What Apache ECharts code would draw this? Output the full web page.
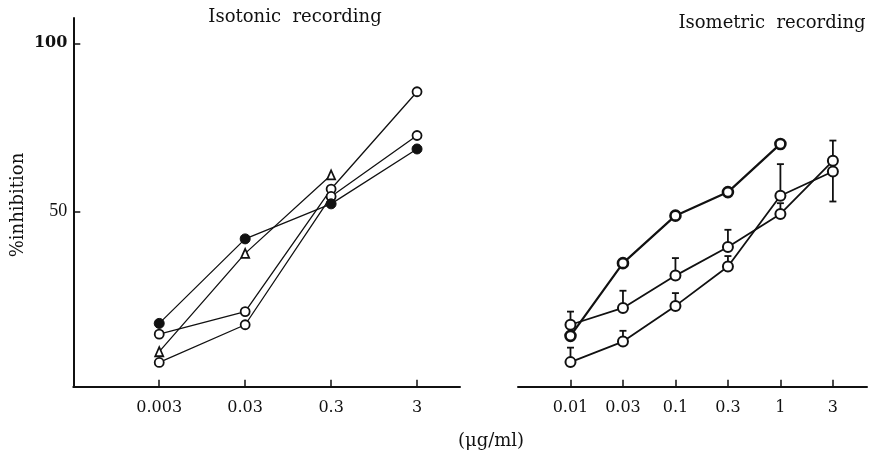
<!DOCTYPE html>
<html>
<head>
<meta charset="utf-8">
<script src="https://cdn.jsdelivr.net/npm/echarts@6/dist/echarts.min.js"></script>
<style>
  html, body { margin: 0; padding: 0; background: #fff; }
  #chart { width: 878px; height: 458px; }
</style>
</head>
<body>
<div id="chart"></div>
<script>
// Concentrations (µg/ml) on each panel, equally spaced
const isotonicDoses = ['0.003', '0.03', '0.3', '3'];
const isometricDoses = ['0.01', '0.03', '0.1', '0.3', '1', '3'];
const yTicks = [50, 100];

// Isotonic recording: % inhibition
const isoFilled   = [16.8, 41.9, 52.3, 68.6];
const isoOpenA    = [13.6, 20.3, 56.7, 85.6];
const isoOpenB    = [5.2, 16.4, 54.5, 72.6];
const isoTriangle = [8.4, 37.6, 60.9];

// Isometric recording: % inhibition
const ismTop = [13.1, 34.7, 48.8, 55.8, 70.1];
const ismMid = [16.4, 21.4, 31.0, 39.5, 49.3, 65.1];
const ismLow = [5.3, 11.4, 22.0, 33.7, 54.7, 61.9];
// far end of each error bar (mean ± s.e.)
const ismMidErr = [20.3, 26.5, 36.2, 44.6, 52.5, 71.1];
const ismLowErr = [9.6, 14.6, 25.8, 36.8, 64.1, 53.0];

const SERIF = '"Liberation Serif", serif';
const WIDE = '"DejaVu Serif", "Liberation Serif", serif';
const INK = '#111';

const pts = arr => arr.map((v, i) => [i, v]);
const errs = (vals, ends) => vals.map((v, i) => [i, v, ends[i]]);

function xAxisFor(gridIndex, cats, max) {
  const idx = cats.map((_, i) => i);
  return {
    type: 'value', gridIndex: gridIndex, min: -1, max: max,
    splitLine: { show: false },
    axisLine: { show: true, onZero: false, lineStyle: { color: INK, width: 2 } },
    axisTick: { show: true, inside: true, length: 7, customValues: idx, lineStyle: { color: INK, width: 1.5 } },
    axisLabel: {
      customValues: idx, margin: 13,
      formatter: v => cats[Math.round(v)],
      fontFamily: WIDE, fontSize: 16, color: INK
    }
  };
}

function yAxisFor(gridIndex, visible) {
  return {
    type: 'value', gridIndex: gridIndex, min: -2, max: 107.5,
    splitLine: { show: false },
    axisLine: { show: visible, onZero: false, lineStyle: { color: INK, width: 2 } },
    axisTick: { show: visible, inside: true, length: 7, customValues: yTicks, lineStyle: { color: INK, width: 1.5 } },
    axisLabel: {
      show: visible, customValues: yTicks, margin: 6,
      formatter: v => v === 100 ? '{b|100}' : String(v),
      fontFamily: SERIF, fontSize: 18, color: INK,
      rich: { b: { fontFamily: WIDE, fontSize: 16, fontWeight: 'bold', color: INK } }
    }
  };
}

function lineSeries(data, xi, opts) {
  return Object.assign({
    type: 'line', xAxisIndex: xi, yAxisIndex: xi, data: data,
    symbol: 'circle', symbolSize: 9,
    lineStyle: { color: INK, width: 1.3 },
    itemStyle: { color: '#fff', borderColor: INK, borderWidth: 1.8 },
    animation: false, z: 3
  }, opts || {});
}

function errorSeries(data) {
  return {
    type: 'custom', xAxisIndex: 1, yAxisIndex: 1, data: data, z: 2, animation: false,
    renderItem: function (params, api) {
      const a = api.coord([api.value(0), api.value(1)]);
      const b = api.coord([api.value(0), api.value(2)]);
      const style = { stroke: INK, lineWidth: 1.8 };
      return {
        type: 'group',
        children: [
          { type: 'line', shape: { x1: a[0], y1: a[1], x2: b[0], y2: b[1] }, style: style },
          { type: 'line', shape: { x1: b[0] - 3.5, y1: b[1], x2: b[0] + 3.5, y2: b[1] }, style: style }
        ]
      };
    }
  };
}

const chart = echarts.init(document.getElementById('chart'), null, { renderer: 'canvas' });

chart.setOption({
  backgroundColor: '#fff',
  animation: false,
  grid: [
    { left: 73.3, top: 18, width: 386.7, height: 368.7 },
    { left: 518, top: 18, width: 349, height: 368.7 }
  ],
  xAxis: [xAxisFor(0, isotonicDoses, 3.5), xAxisFor(1, isometricDoses, 5.65)],
  yAxis: [yAxisFor(0, true), yAxisFor(1, false)],
  graphic: [
    { type: 'text', x: 295, y: 17, style: { text: 'Isotonic  recording', font: '18px ' + WIDE, fill: INK, align: 'center', verticalAlign: 'middle' } },
    { type: 'text', x: 772, y: 23, style: { text: 'Isometric  recording', font: '18px ' + WIDE, fill: INK, align: 'center', verticalAlign: 'middle' } },
    { type: 'text', x: 491, y: 441, style: { text: '(μg/ml)', font: '18px ' + WIDE, fill: INK, align: 'center', verticalAlign: 'middle' } },
    { type: 'text', x: 18, y: 205, rotation: Math.PI / 2, style: { text: '%inhibition', font: '18px ' + WIDE, fill: INK, align: 'center', verticalAlign: 'middle' } }
  ],
  series: [
    lineSeries(pts(isoOpenA), 0),
    lineSeries(pts(isoOpenB), 0),
    lineSeries(pts(isoTriangle), 0, { symbol: 'triangle', symbolSize: [8, 9] }),
    lineSeries(pts(isoFilled), 0, { itemStyle: { color: INK, borderColor: INK, borderWidth: 1 }, symbolSize: 10 }),

    errorSeries(errs(ismMid, ismMidErr)),
    errorSeries(errs(ismLow, ismLowErr)),
    lineSeries(pts(ismTop), 1, { symbolSize: 10, lineStyle: { color: INK, width: 2.2 }, itemStyle: { color: '#fff', borderColor: INK, borderWidth: 2.6 } }),
    lineSeries(pts(ismMid), 1, { symbolSize: 10, lineStyle: { color: INK, width: 1.8 }, itemStyle: { color: '#fff', borderColor: INK, borderWidth: 2 } }),
    lineSeries(pts(ismLow), 1, { symbolSize: 10, lineStyle: { color: INK, width: 1.8 }, itemStyle: { color: '#fff', borderColor: INK, borderWidth: 2 } })
  ]
});
</script>
</body>
</html>
